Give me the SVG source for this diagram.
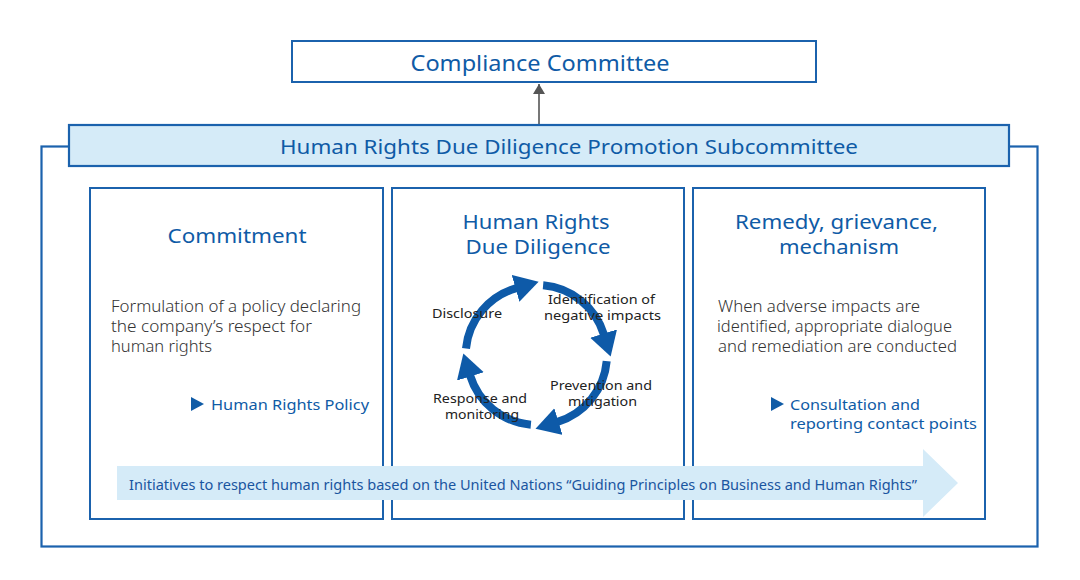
<svg xmlns="http://www.w3.org/2000/svg" width="1080" height="580" viewBox="0 0 1080 580">
<style>
.box{fill:#fff;stroke:#1b62ad;stroke-width:2}
.lb{fill:#d5ebf8;stroke:#1b62ad;stroke-width:2.2}
.ttl{font-family:"Noto Sans","Liberation Sans",sans-serif;fill:#0f5ba6;text-anchor:middle}
.body{font-family:"Noto Sans","Liberation Sans",sans-serif;font-weight:300;fill:#333;font-size:15.5px}
.link{font-family:"Noto Sans","Liberation Sans",sans-serif;fill:#0f5ba6;font-size:15px}
.cyc{font-family:"Noto Sans","Liberation Sans",sans-serif;fill:#222;font-size:12px;text-anchor:middle}
.arc{fill:none;stroke:#0e5aa8;stroke-width:8}
</style>
<defs>
<marker id="ah" markerUnits="userSpaceOnUse" markerWidth="26" markerHeight="28" refX="1" refY="14" orient="auto" viewBox="0 0 26 28">
<path d="M0,0 L24,14 L0,28 Z" fill="#0e5aa8"/>
</marker>
<marker id="ga" markerUnits="userSpaceOnUse" markerWidth="10" markerHeight="12" refX="10" refY="6" orient="auto" viewBox="0 0 10 12">
<path d="M0,0 L10,6 L0,12 Z" fill="#555"/>
</marker>
</defs>

<g id="outer"><rect class="box" x="41.5" y="146.5" width="996" height="400" style="stroke-width:2.2"/></g>

<g id="compliance">
<rect class="box" x="292" y="41" width="524" height="41"/>
<text class="ttl" x="540" y="71" font-size="21" textLength="259" lengthAdjust="spacingAndGlyphs">Compliance Committee</text>
</g>

<g id="connectors">
<line x1="539" y1="125" x2="539" y2="84" stroke="#555" stroke-width="1.6" marker-end="url(#ga)"/>
</g>

<g id="subcommittee">
<rect class="lb" x="69" y="125" width="940" height="41"/>
<text class="ttl" x="569" y="154" font-size="19.5" textLength="578" lengthAdjust="spacingAndGlyphs">Human Rights Due Diligence Promotion Subcommittee</text>
</g>

<g id="commitment">
<rect class="box" x="90" y="188" width="293" height="331"/>
<text class="ttl" x="237" y="243" font-size="20" textLength="139" lengthAdjust="spacingAndGlyphs">Commitment</text>
<text class="body" x="111" y="312" textLength="250" lengthAdjust="spacingAndGlyphs">Formulation of a policy declaring</text>
<text class="body" x="111" y="332" textLength="201" lengthAdjust="spacingAndGlyphs">the company’s respect for</text>
<text class="body" x="111" y="352" textLength="101" lengthAdjust="spacingAndGlyphs">human rights</text>
<path d="M191,397 L204,404 L191,411 Z" fill="#0f5ba6"/>
<text class="link" x="211" y="410" textLength="158" lengthAdjust="spacingAndGlyphs">Human Rights Policy</text>
</g>

<g id="dd">
<rect class="box" x="392" y="188" width="292" height="331"/>
<text class="ttl" x="536" y="229" font-size="20" textLength="147" lengthAdjust="spacingAndGlyphs">Human Rights</text>
<text class="ttl" x="538" y="254" font-size="20" textLength="145" lengthAdjust="spacingAndGlyphs">Due Diligence</text>
<g id="cycle">
<path class="arc" d="M466,348.5 A70,70 0 0 1 516.5,288.1" marker-end="url(#ah)"/>
<path class="arc" d="M543.1,285.3 A70,70 0 0 1 603.9,334.5" marker-end="url(#ah)"/>
<path class="arc" d="M606.7,361.1 A70,70 0 0 1 557.5,421.9" marker-end="url(#ah)"/>
<path class="arc" d="M530.9,424.7 A70,70 0 0 1 470.1,375.5" marker-end="url(#ah)"/>
</g>
<text class="cyc" x="467" y="318" textLength="70" lengthAdjust="spacingAndGlyphs">Disclosure</text>
<text class="cyc" x="601.5" y="304" textLength="107" lengthAdjust="spacingAndGlyphs">Identification of</text>
<text class="cyc" x="602.5" y="320" textLength="117" lengthAdjust="spacingAndGlyphs">negative impacts</text>
<text class="cyc" x="601" y="390" textLength="102" lengthAdjust="spacingAndGlyphs">Prevention and</text>
<text class="cyc" x="602.5" y="406" textLength="69" lengthAdjust="spacingAndGlyphs">mitigation</text>
<text class="cyc" x="480" y="403" textLength="94" lengthAdjust="spacingAndGlyphs">Response and</text>
<text class="cyc" x="482" y="419" textLength="74" lengthAdjust="spacingAndGlyphs">monitoring</text>
</g>

<g id="remedy">
<rect class="box" x="693" y="188" width="292" height="331"/>
<text class="ttl" x="836.5" y="229" font-size="20" textLength="203" lengthAdjust="spacingAndGlyphs">Remedy, grievance,</text>
<text class="ttl" x="839" y="254" font-size="20" textLength="120" lengthAdjust="spacingAndGlyphs">mechanism</text>
<text class="body" x="718" y="312" textLength="202" lengthAdjust="spacingAndGlyphs">When adverse impacts are</text>
<text class="body" x="717" y="332" textLength="235" lengthAdjust="spacingAndGlyphs">identified, appropriate dialogue</text>
<text class="body" x="718" y="352" textLength="239" lengthAdjust="spacingAndGlyphs">and remediation are conducted</text>
<path d="M771,397 L784,404 L771,411 Z" fill="#0f5ba6"/>
<text class="link" x="790" y="410" textLength="130" lengthAdjust="spacingAndGlyphs">Consultation and</text>
<text class="link" x="790" y="429" textLength="187" lengthAdjust="spacingAndGlyphs">reporting contact points</text>
</g>

<g id="banner">
<path d="M117,466 L923,466 L923,449 L958,483 L923,517 L923,500 L117,500 Z" fill="#d5ebf8"/>
<text x="129" y="490" font-family="'Noto Sans','Liberation Sans',sans-serif" font-size="14" fill="#1a55a0" textLength="788" lengthAdjust="spacingAndGlyphs">Initiatives to respect human rights based on the United Nations “Guiding Principles on Business and Human Rights”</text>
</g>
</svg>
